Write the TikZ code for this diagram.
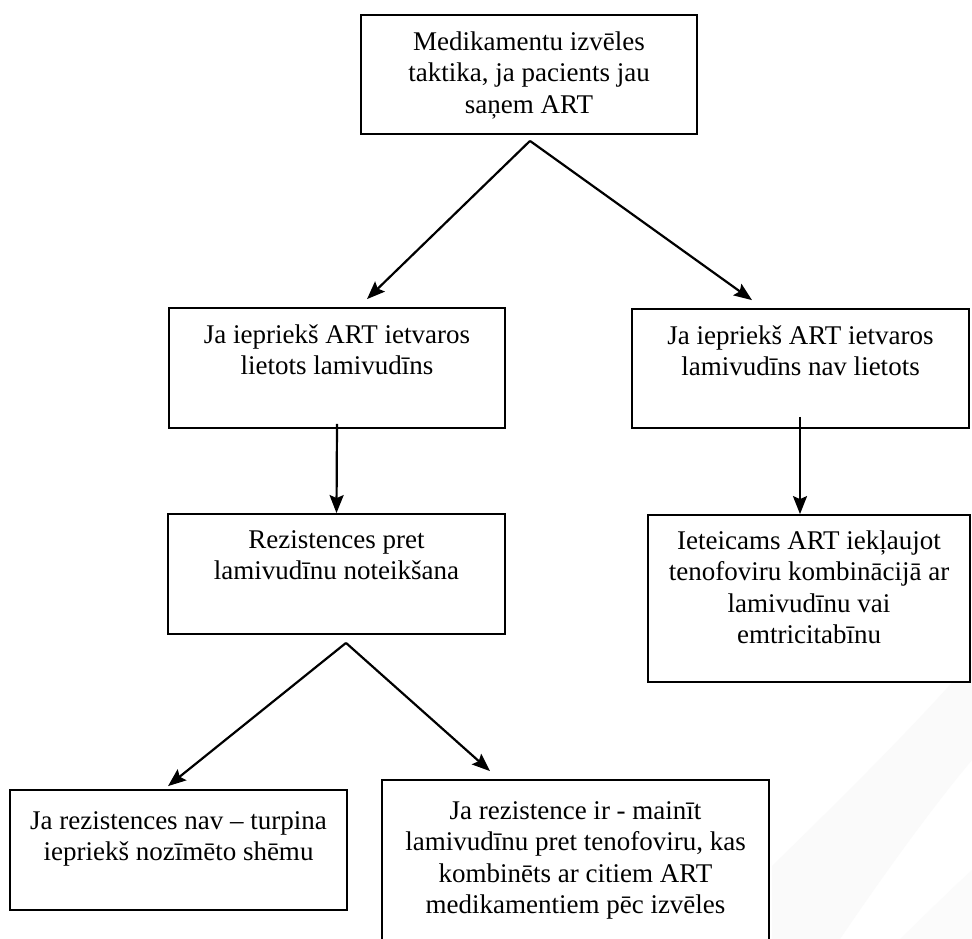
\documentclass[tikz,border=0pt]{standalone}
\usepackage{fontspec}
\setmainfont{Liberation Serif}
\usetikzlibrary{arrows.meta,calc}
\begin{document}
\begin{tikzpicture}[x=1pt,y=-1pt,
  box/.style={draw, fill=white, line width=1.8pt, inner sep=0pt, rectangle},
  txt/.style={inner sep=0pt, align=center, anchor=north,
    font=\fontsize{27}{31.5}\selectfont},
  arr/.style={line width=2.2pt, -{Stealth[length=18pt,width=14pt,inset=3pt]}}]
\useasboundingbox (0,0) rectangle (972,939);
\clip (0,0) rectangle (972,939);
\fill[white] (0,0) rectangle (972,939);
% faint watermark
\fill[gray!4] (772,939) -- (772,866) .. controls (850,790) and (920,720) .. (972,660)
  -- (972,760) .. controls (930,810) and (880,880) .. (840,939) -- cycle;
\fill[gray!3] (900,939) .. controls (930,910) and (950,890) .. (972,870) -- (972,939) -- cycle;
% boxes
\node[box, minimum width=336pt, minimum height=119pt] (top) at (529,74.5) {};
\node[box, minimum width=336pt, minimum height=120pt] (b2) at (337,368) {};
\node[box, minimum width=337pt, minimum height=119pt] (b3) at (800.5,368.5) {};
\node[box, minimum width=337pt, minimum height=120pt] (b4) at (336.5,574) {};
\node[box, minimum width=322pt, minimum height=167pt] (b5) at (809,598.5) {};
\node[box, minimum width=337pt, minimum height=120pt] (b6) at (178.5,850) {};
\node[box, minimum width=387pt, minimum height=180pt] (b7) at (575.5,870) {};
% texts
\node[txt] (t1) at ($(top.north)+(0,17)$) {Medikamentu izvēles\\taktika, ja pacients jau\\saņem ART};
\node[txt] (t2) at ($(b2.north)+(0,17)$) {Ja iepriekš ART ietvaros\\lietots lamivudīns};
\node[txt] (t3) at ($(b3.north)+(0,17)$) {Ja iepriekš ART ietvaros\\lamivudīns nav lietots};
\node[txt] (t4) at ($(b4.north)+(0,17)$) {Rezistences pret\\lamivudīnu noteikšana};
\node[txt] (t5) at ($(b5.north)+(0,16)$) {Ieteicams ART iekļaujot\\tenofoviru kombinācijā ar\\lamivudīnu vai\\emtricitabīnu};
\node[txt] (t6) at ($(b6.north)+(0,22)$) {Ja rezistences nav – turpina\\iepriekš nozīmēto shēmu};
\node[txt] (t7) at ($(b7.north)+(0,22)$) {Ja rezistence ir - mainīt\\lamivudīnu pret tenofoviru, kas\\kombinēts ar citiem ART\\medikamentiem pēc izvēles};
% arrows
\coordinate (s1) at ($(top.south)+(1,6)$);
\coordinate (s4) at ($(b4.south)+(9.5,8)$);
\draw[arr] (s1) -- ($(b2.north)+(30,-8)$);
\draw[arr] (s1) -- ($(b3.north)+(-48.5,-8)$);
\draw[arr] ($(b2.south)+(0,-5)$) -- (b4.north);
\draw[arr] ($(b3.south)+(-0.5,-12)$) -- ($(b5.north)+(-9,0)$);
\draw[arr] (s4) -- ($(b6.north)+(-10.5,-3)$);
\draw[arr] (s4) -- ($(b7.north)+(-85.5,-8)$);
\end{tikzpicture}
\end{document}
